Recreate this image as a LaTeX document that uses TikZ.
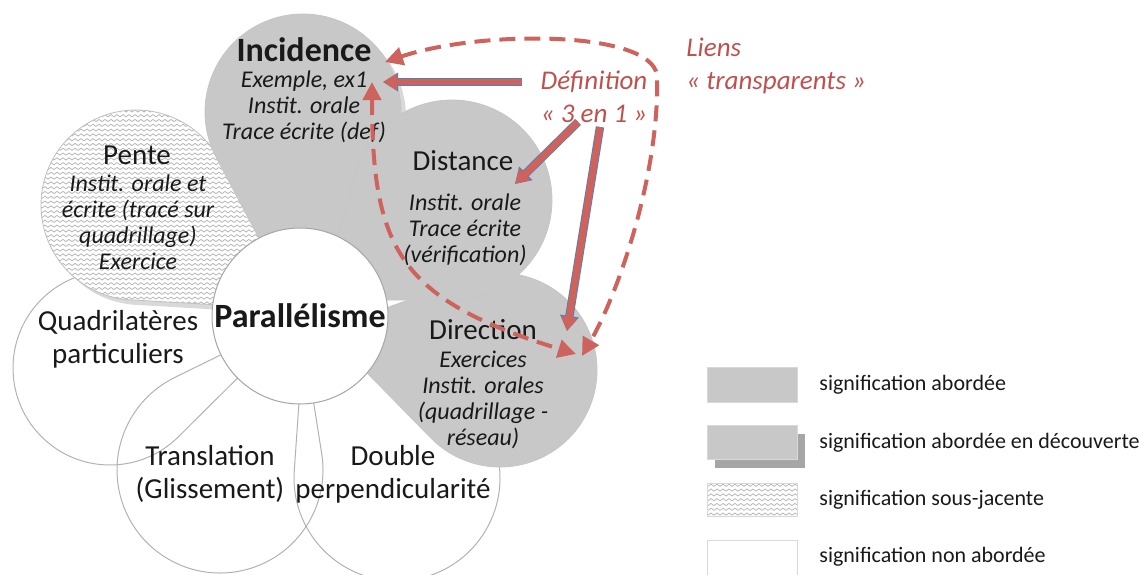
\documentclass[tikz,border=0pt]{standalone}
\usepackage{fontspec}
\setmainfont{Carlito}
\usetikzlibrary{calc,arrows.meta,patterns,shadows}

\definecolor{redc}{RGB}{192,80,77}
\definecolor{redl}{RGB}{206,98,92}
\definecolor{bluec}{RGB}{79,129,189}
\definecolor{petalgrey}{RGB}{200,200,200}

% small waves for the "sous-jacente" fill
\pgfdeclarepatternformonly{zigzag}{\pgfqpoint{-0.5pt}{-0.5pt}}{\pgfqpoint{3.5pt}{3pt}}{\pgfqpoint{3pt}{2.4pt}}{%
  \pgfsetlinewidth{0.35pt}%
  \pgfpathmoveto{\pgfqpoint{0pt}{0.6pt}}%
  \pgfpathlineto{\pgfqpoint{1.5pt}{1.7pt}}%
  \pgfpathlineto{\pgfqpoint{3pt}{0.6pt}}%
  \pgfusepath{stroke}}

% petal: centre (#2,#3), radius #4, tip (#5,#6)
\newcommand{\petal}[6][]{%
  \pgfmathsetmacro\pdx{#5-#2}%
  \pgfmathsetmacro\pdy{#6-#3}%
  \pgfmathsetmacro\pang{atan2(\pdy,\pdx)}%
  \pgfmathsetmacro\phalf{acos(#4/veclen(\pdx,\pdy))}%
  \draw[#1] (#5,#6) -- ($(#2,#3)+(\pang+\phalf:#4)$)
    arc[start angle=\pang+\phalf, delta angle=360-2*\phalf, radius=#4] -- cycle;}

\begin{document}
\begin{tikzpicture}[x=0.5pt,y=-0.5pt,
  every node/.style={inner sep=0pt,text=black!90},
  whitepetal/.style={draw=gray!60,line width=0.5pt},
  greypetal/.style={draw=gray!45,line width=0.4pt,fill=petalgrey},
  subpetal/.style={draw=gray!50,line width=0.4pt,preaction={fill=white},pattern=zigzag,pattern color=gray!60},
  shadowed/.style={drop shadow={shadow xshift=2.5pt,shadow yshift=-2.5pt,opacity=0.3}},
  title/.style={font=\fontsize{17}{20}\selectfont\bfseries},
  lbl/.style={font=\fontsize{14.5}{16.5}\selectfont,align=center},
  note/.style={font=\fontsize{12}{13}\selectfont\itshape,align=center},
  redtxt/.style={text=redc,font=\fontsize{13.5}{16.5}\selectfont\itshape},
  legtxt/.style={font=\fontsize{11}{13}\selectfont,anchor=west},
  legbox/.style={draw=gray!30,line width=0.4pt},
  defarrow/.style={draw=redl,line width=3.4pt,-{Triangle[length=7pt,width=8pt]},
    preaction={draw=bluec,line width=4.2pt,-{Triangle[length=7.6pt,width=9pt]}}},
  linkarrow/.style={draw=redl,line width=2pt,dash pattern=on 8pt off 4.5pt,
    {Triangle[length=9pt,width=9pt]}-{Triangle[length=9pt,width=9pt]}}]
\useasboundingbox (0,0) rectangle (1145,574);

% petals, back to front
\petal[whitepetal]{397}{478}{103}{305}{316}
\petal[whitepetal]{220}{470}{103}{300}{316}
\petal[whitepetal]{110}{368}{97}{300}{316}
\petal[shadowed,subpetal]{136}{205}{95}{305}{310}
\petal[greypetal,shadowed]{303}{112}{98}{300}{316}
\petal[greypetal]{500}{370}{97}{325}{330}
\petal[greypetal]{452}{200}{100}{320}{300}

% centre
\node[circle,draw=gray!70,line width=0.5pt,fill=white,minimum size=88pt,title] (par) at (300,316) {Parall\'elisme};

% petal texts
\node[title] (inc) at (304,50) {Incidence};
\node[note] (incn) at (304,107) {Exemple, ex1\\Instit. orale\\Trace \'ecrite (def)};
\node[lbl] (pen) at (137,155) {Pente};
\node[note] (penn) at (138,222) {Instit. orale et\\\'ecrite (trac\'e sur\\quadrillage)\\Exercice};
\node[lbl] (dis) at (463,161) {Distance};
\node[note] (disn) at (465,230) {Instit. orale\\Trace \'ecrite\\(v\'erification)};
\node[lbl] (dir) at (483,330) {Direction};
\node[note] (dirn) at (483,400) {Exercices\\Instit. orales\\(quadrillage -\\r\'eseau)};
\node[lbl] (qua) at (118,339) {Quadrilat\`eres\\particuliers};
\node[lbl] (tra) at (210,474) {Translation\\(Glissement)};
\node[lbl] (dou) at (393,474) {Double\\perpendicularit\'e};

% red notes
\node[redtxt,align=center] (def) at (594,97) {D\'efinition\\\guillemotleft~3 en 1 \guillemotright};
\node[redtxt,align=left,anchor=west] (lie) at (686,66) {Liens\\\guillemotleft~transparents \guillemotright};

% arrow ends
\coordinate (a1s) at (522,82);
\coordinate (a1e) at (383,82);
\coordinate (a2s) at (578,122);
\coordinate (a2e) at (515,184);
\coordinate (a3s) at (600,127);
\coordinate (a3e) at (567,331);
\coordinate (incE) at (385,62);
\coordinate (incS) at (372,82);
\coordinate (dirN) at (582,356);
\coordinate (dirW) at (576,354);

\draw[defarrow] (a1s) -- (a1e);
\draw[defarrow] (a2s) -- (a2e);
\draw[defarrow] (a3s) -- (a3e);

\draw[linkarrow] (incE) .. controls (480,30) and (650,30) .. (657,75)
  .. controls (660,170) and (620,290) .. (dirN);
\draw[linkarrow] (incS) .. controls (372,250) and (400,300) .. (dirW);

% legend
\draw[legbox,fill=petalgrey] (707,367) rectangle (797,402);
\fill[gray!70] (715,434) rectangle (805,468);
\draw[legbox,fill=petalgrey] (707,425) rectangle (797,459);
\draw[legbox,preaction={fill=white},pattern=zigzag,pattern color=gray!60] (707,483) rectangle (797,516);
\draw[legbox,fill=white] (707,540) rectangle (797,576);
\node[legtxt] (l1) at (819,385) {signification abord\'ee};
\node[legtxt] (l2) at (819,443) {signification abord\'ee en d\'ecouverte};
\node[legtxt] (l3) at (819,500) {signification sous-jacente};
\node[legtxt] (l4) at (819,557) {signification non abord\'ee};
\end{tikzpicture}
\end{document}
